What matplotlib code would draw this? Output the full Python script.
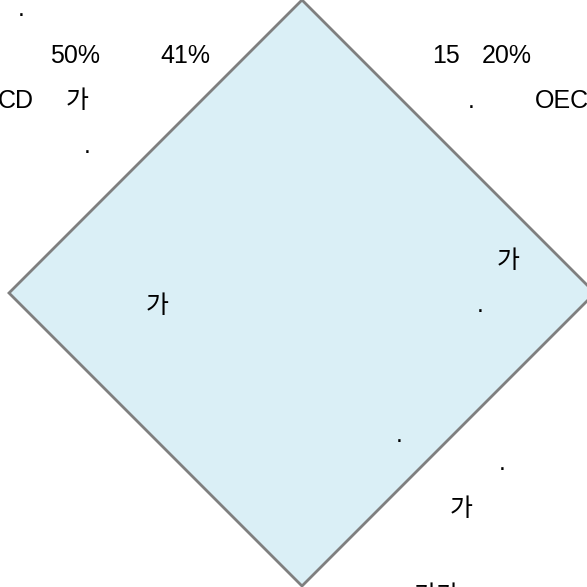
import matplotlib
matplotlib.use("Agg")
import matplotlib.pyplot as plt
from matplotlib.patches import Polygon

# diamond (rotated square) in pixel space of a 587x587 canvas
diamond_center = (302, 293)
diamond_half = 293

# text fragments that survived rendering, and where their baselines sit
labels = [".", "50%", "41%", "15", "20%",
          "CD", "가", ".", "OEC",
          ".",
          "가", "가", ".",
          ".", ".", "가",
          "가가"]
label_x = [18, 50, 160, 432, 482,
           -2, 66, 468, 535,
           84,
           497, 146, 477,
           396, 499, 450,
           414]
label_y = [16, 63, 63, 63, 63,
           108, 108, 108, 108,
           153,
           268, 313, 312,
           442, 470, 516,
           603]

fill_color = "#daeff6"
edge_color = "#7f7f7f"

fig = plt.figure(figsize=(5.87, 5.87), dpi=100)
ax = fig.add_axes([0, 0, 1, 1])
ax.set_xlim(0, 587)
ax.set_ylim(587, 0)
ax.axis("off")

cx, cy = diamond_center
h = diamond_half
verts = [(cx, cy - h), (cx + h, cy), (cx, cy + h), (cx - h, cy)]
ax.add_patch(Polygon(verts, closed=True, facecolor=fill_color,
                     edgecolor=edge_color, linewidth=2.0))

for t, x, y in zip(labels, label_x, label_y):
    ax.text(x, y, t, ha="left", va="baseline", fontsize=18, color="black",
            family=["Liberation Sans", "Noto Sans CJK KR"])

fig.savefig("out.png", dpi=100)
